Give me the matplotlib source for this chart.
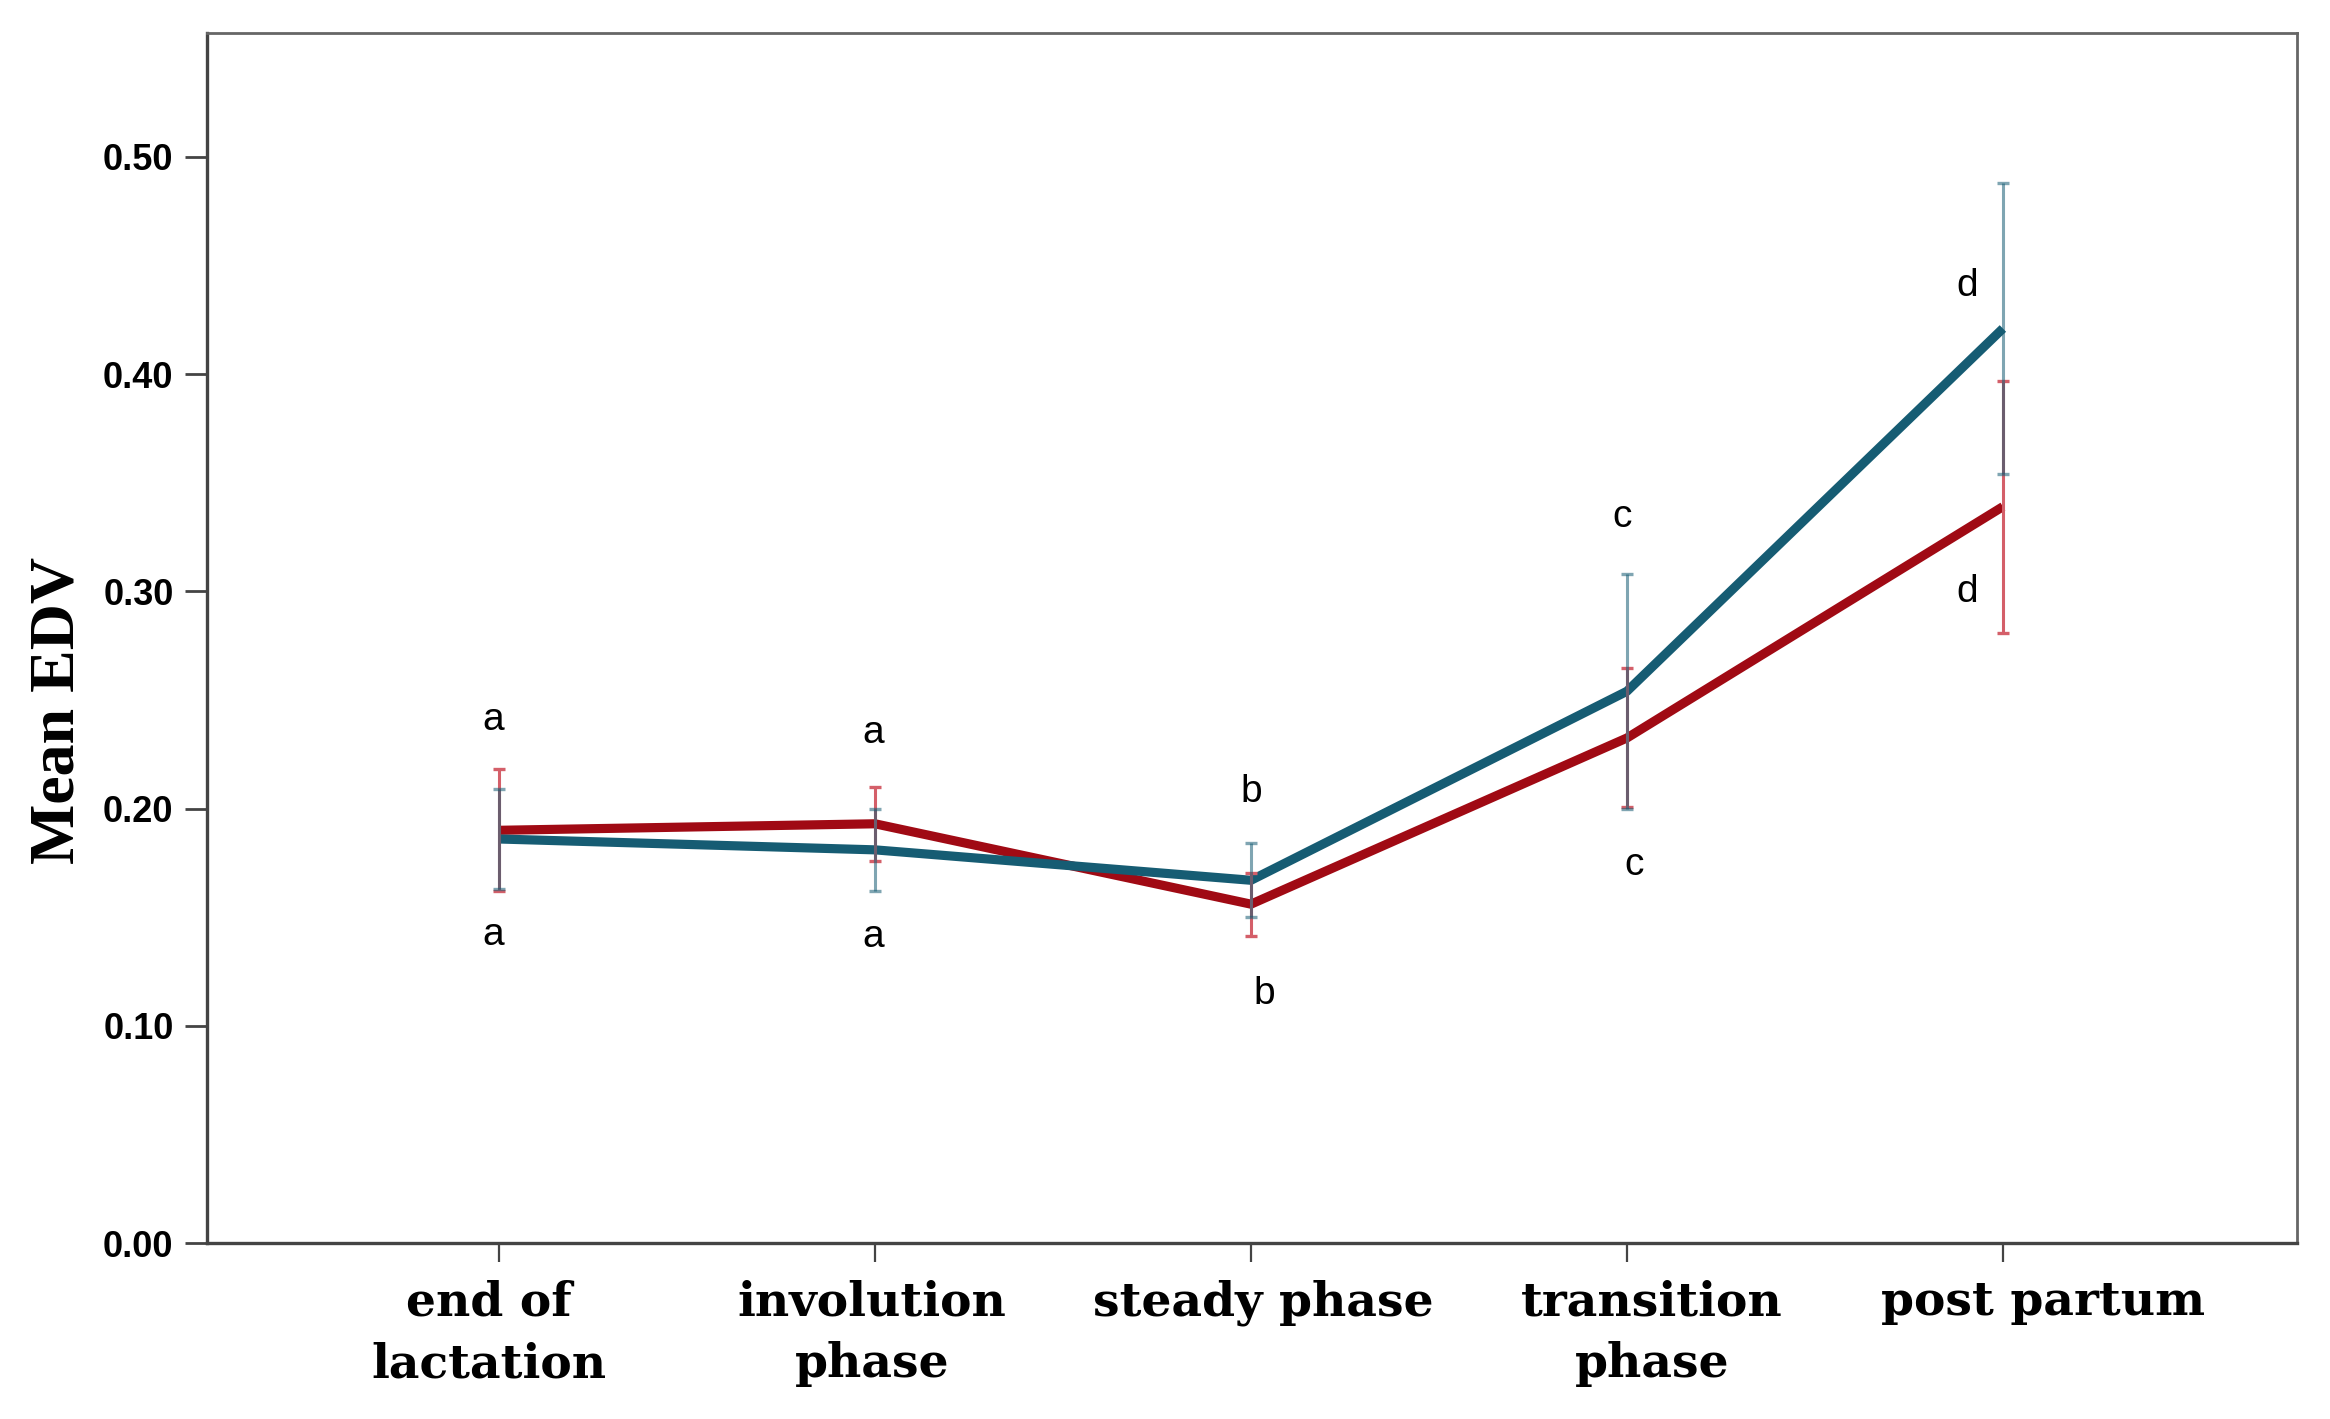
import matplotlib
matplotlib.use("Agg")
import matplotlib.pyplot as plt

# phases on the x axis
phases = ["end of\nlactation", "involution\nphase", "steady phase", "transition\nphase", "post partum"]

# red series: means and error half-widths
red_mean = [0.190, 0.193, 0.156, 0.2325, 0.339]
red_err = [0.028, 0.017, 0.0145, 0.032, 0.058]

# blue series
blue_mean = [0.186, 0.181, 0.167, 0.254, 0.421]
blue_err = [0.023, 0.019, 0.017, 0.054, 0.067]

# significance letters: text, x offset from the phase, y value
blue_letters = ["a", "a", "b", "c", "d"]
blue_letter_dx = [-0.016, -0.005, 0.0, -0.013, -0.096]
blue_letter_y = [0.241, 0.235, 0.2075, 0.334, 0.4405]
red_letters = ["a", "a", "b", "c", "d"]
red_letter_dx = [-0.016, -0.005, 0.035, 0.019, -0.096]
red_letter_y = [0.142, 0.141, 0.1145, 0.174, 0.2995]

# the phase names sit a little off their ticks in the original
label_dx = [-0.027, -0.008, 0.032, 0.066, 0.106]

yticks = [0.0, 0.1, 0.2, 0.3, 0.4, 0.5]

RED = "#a00a14"
RED_BAR = "#d45f69"
BLUE = "#165c73"

fig = plt.figure(figsize=(11.65, 7.095), dpi=200)
ax = fig.add_axes([0.0888, 0.1240, 0.8970, 0.8527])

x = list(range(len(phases)))

ax.plot(x, red_mean, color=RED, lw=3.3, zorder=3, solid_capstyle="butt")
ax.plot(x, blue_mean, color=BLUE, lw=3.3, zorder=4, solid_capstyle="butt")

ax.errorbar(x, red_mean, yerr=red_err, fmt="none", ecolor=RED_BAR, elinewidth=1.1,
            capsize=2.0, capthick=1.2, zorder=5)
ax.errorbar(x, blue_mean, yerr=blue_err, fmt="none", ecolor=BLUE, elinewidth=1.1,
            capsize=2.0, capthick=1.2, alpha=0.55, zorder=6)

for i in x:
    ax.text(i + blue_letter_dx[i], blue_letter_y[i], blue_letters[i], ha="center", va="center",
            fontsize=14, family="Liberation Sans", color="black")
    ax.text(i + red_letter_dx[i], red_letter_y[i], red_letters[i], ha="center", va="center",
            fontsize=14, family="Liberation Sans", color="black")

ax.set_xlim(-0.777, 4.782)
ax.set_ylim(0, 0.557)

ax.set_yticks(yticks)
ax.set_yticklabels(["%.2f" % v for v in yticks], family="Liberation Sans", fontweight="bold", fontsize=13)

# major ticks carry the marks, minor ticks (no marks) carry the names
ax.set_xticks(x)
ax.set_xticklabels([""] * len(x))
ax.set_xticks([i + d for i, d in zip(x, label_dx)], minor=True)
ax.set_xticklabels(phases, minor=True, family="DejaVu Serif", fontweight="bold", fontsize=17,
                   linespacing=1.45)

ax.tick_params(axis="y", direction="out", length=8, width=1.0, color="#444444", pad=4)
ax.tick_params(axis="x", which="major", direction="out", length=7, width=0.8, color="#444444")
ax.tick_params(axis="x", which="minor", length=0, pad=13)

for side in ["left", "bottom"]:
    ax.spines[side].set_color("#444444")
    ax.spines[side].set_linewidth(1.2)
for side in ["top", "right"]:
    ax.spines[side].set_color("#666666")
    ax.spines[side].set_linewidth(1.0)

ax.set_ylabel("Mean EDV", family="Liberation Serif", fontweight="bold", fontsize=23)
ax.yaxis.set_label_coords(-0.057, 0.44)

fig.savefig("out.png", dpi=200)
